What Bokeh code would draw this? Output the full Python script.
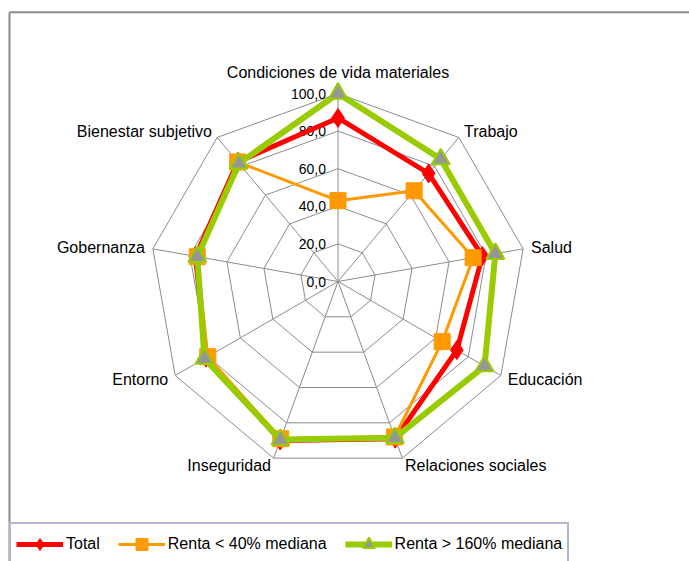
import math
from bokeh.plotting import figure
from bokeh.models import Range1d, Legend, LegendItem, ColumnDataSource
from bokeh.core.properties import value
from bokeh.embed import file_html
from bokeh.resources import INLINE

# ---- data ----
categories = ["Condiciones de vida materiales", "Trabajo", "Salud", "Educación",
              "Relaciones sociales", "Inseguridad", "Entorno", "Gobernanza",
              "Bienestar subjetivo"]
total = [87, 75, 78, 73, 89, 90, 81, 77, 83]
renta_baja = [43, 63, 73, 64, 88, 89, 80, 76, 83]
renta_alta = [100, 85, 85, 90, 88.5, 89.5, 82, 76, 82]
tick_values = [0, 20, 40, 60, 80, 100]
tick_labels = ["0,0", "20,0", "40,0", "60,0", "80,0", "100,0"]
series_names = ["Total", "Renta < 40% mediana", "Renta > 160% mediana"]

# ---- geometry ----
W, H = 689, 561
CX, CY = 337.5, 281.0   # canvas px of radar centre
S = 1.88                # px per unit
FONT = "Liberation Sans"

p = figure(width=W, height=H, output_backend="svg", toolbar_location=None,
           x_range=Range1d(-CX / S, (W - CX) / S),
           y_range=Range1d(-(H - CY) / S, CY / S),
           min_border=0)
p.axis.visible = False
p.grid.visible = False
p.outline_line_color = None
p.background_fill_color = "white"

n = len(categories)
angles = [2 * math.pi * i / n for i in range(n)]


def to_xy(vals):
    xs = [v * math.sin(a) for v, a in zip(vals, angles)]
    ys = [v * math.cos(a) for v, a in zip(vals, angles)]
    return xs, ys


# chart frame (left and top edges visible)
left_x = (9.0 - CX) / S
top_y = (CY - 11.7) / S
p.segment(x0=[left_x, left_x], y0=[top_y, top_y],
          x1=[left_x, p.x_range.end], y1=[p.y_range.start, top_y],
          line_color="#8a8a8a", line_width=2)

# grid rings
grid_color = "#8c8c8c"
ring_xs, ring_ys = [], []
for lv in tick_values[1:]:
    xs, ys = to_xy([lv] * n)
    ring_xs.append(xs + [xs[0]])
    ring_ys.append(ys + [ys[0]])
p.multi_line(ring_xs, ring_ys, line_color=grid_color, line_width=1)

# spokes
sx, sy = to_xy([tick_values[-1]] * n)
p.segment(x0=[0] * n, y0=[0] * n, x1=sx, y1=sy, line_color=grid_color, line_width=1)

# tick labels
p.text(x=[0] * len(tick_values), y=tick_values, text=tick_labels,
       x_offset=-12, text_align="right", text_baseline="middle",
       text_font=value(FONT), text_font_size="14px", text_color="black")

# category labels
d = 8 / S
lab_x, lab_y, aligns, yo = [], [], [], []
for a in angles:
    s, c = math.sin(a), math.cos(a)
    lab_x.append(100 * s + d * s)
    lab_y.append(100 * c + d * c)
    if s > 0.1:
        aligns.append("left")
    elif s < -0.1:
        aligns.append("right")
    else:
        aligns.append("center")
    yo.append(-13 if c > 0.95 else 0)
src_lab = ColumnDataSource(dict(x=lab_x, y=lab_y, text=categories, align=aligns, yo=yo))
p.text(x="x", y="y", text="text", text_align="align", y_offset="yo",
       text_baseline="middle", text_font=value(FONT), text_font_size="16px",
       text_color="black", source=src_lab)

# series
def closed(vals):
    xs, ys = to_xy(vals)
    return xs + [xs[0]], ys + [ys[0]]

tx, ty = closed(total)
r1l = p.line(tx, ty, line_color="#FF0000", line_width=5, line_join="miter")
r1m = p.scatter(tx[:-1], ty[:-1], marker="diamond", size=19,
                fill_color="#FF0000", line_color="#FF0000")

bx, by = closed(renta_baja)
r2l = p.line(bx, by, line_color="#FF9900", line_width=3)
r2m = p.scatter(bx[:-1], by[:-1], marker="square", size=16,
                fill_color="#FF9900", line_color="#FF9900")

ax, ay = closed(renta_alta)
r3l = p.line(ax, ay, line_color="#99CC00", line_width=6)
r3m = p.scatter(ax[:-1], ay[:-1], marker="triangle", size=18,
                fill_color="#969696", line_color="#99CC00", line_width=2)

legend = Legend(items=[
    LegendItem(label=series_names[0], renderers=[r1l, r1m]),
    LegendItem(label=series_names[1], renderers=[r2l, r2m]),
    LegendItem(label=series_names[2], renderers=[r3l, r3m]),
], orientation="horizontal", location=(9, -5),
    glyph_width=47, glyph_height=30, padding=5, spacing=18, margin=0,
    label_standoff=3, label_text_font=FONT, label_text_font_size="16px",
    label_text_color="black",
    border_line_color="#6A6A9C", border_line_width=2,
    background_fill_color="white", background_fill_alpha=1)
p.add_layout(legend)

open("out.html", "w").write(file_html(p, INLINE))
